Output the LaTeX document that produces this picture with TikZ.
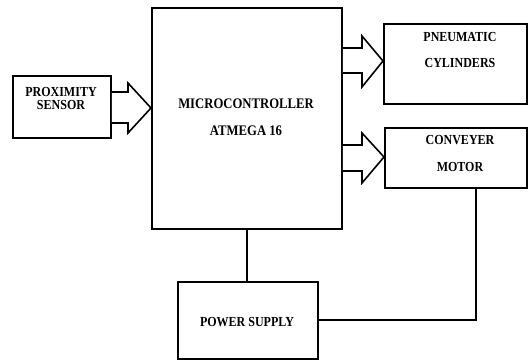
\documentclass[tikz,border=0pt]{standalone}
\usepackage{fontspec}
\setmainfont{Liberation Serif}
\newfontfamily\diagfont[FakeStretch=0.87]{Liberation Serif}
\begin{document}
\begin{tikzpicture}[x=1pt,y=-1pt,
  box/.style={draw=black, line width=1.8pt, fill=white, rectangle, anchor=north west, inner sep=0pt},
  lbl/.style={font=\diagfont\bfseries\fontsize{13.8}{15}\selectfont, inner sep=0pt, align=center},
  biglbl/.style={font=\diagfont\bfseries\fontsize{14.6}{16}\selectfont, inner sep=0pt, align=center},
  wire/.style={draw=black, line width=1.6pt},
  fatarrow/.style={draw=black, line width=1.6pt, fill=white, line join=miter}]
\useasboundingbox (0,0) rectangle (528,360);
% boxes
\node[box, minimum width=98pt, minimum height=62pt] (prox) at (12,75) {};
\node[box, minimum width=190pt, minimum height=221pt] (mcu) at (151,7) {};
\node[box, minimum width=143pt, minimum height=80pt] (pneu) at (383,23) {};
\node[box, minimum width=142pt, minimum height=60pt] (conv) at (384,127) {};
\node[box, minimum width=140pt, minimum height=77pt] (psu) at (177,281) {};
% labels
\node[lbl] (proxA) at (61,92) {PROXIMITY};
\node[lbl] (proxB) at (61,105) {SENSOR};
\node[biglbl] (mcuA) at (246,104) {MICROCONTROLLER};
\node[biglbl] (mcuB) at (246,131) {ATMEGA 16};
\node[lbl] (pneuA) at (460,37) {PNEUMATIC};
\node[lbl] (pneuB) at (460,63) {CYLINDERS};
\node[lbl] (convA) at (460,140) {CONVEYER};
\node[lbl] (convB) at (460,167) {MOTOR};
\node[lbl] (psuA) at (247,322) {POWER SUPPLY};
% hollow arrows
\path[fatarrow] (prox.east |- 0,92) -- (128,92) -- (128,83) -- (mcu.west |- 0,108) -- (128,133) -- (128,123) -- (prox.east |- 0,123);
\path[fatarrow] (mcu.east |- 0,48) -- (362,48) -- (362,36) -- (pneu.west |- 0,61) -- (362,87) -- (362,73) -- (mcu.east |- 0,73);
\path[fatarrow] (mcu.east |- 0,145) -- (362,145) -- (362,133) -- (conv.west |- 0,157) -- (362,183) -- (362,171) -- (mcu.east |- 0,171);
% wires
\draw[wire] (mcu.south) -- (mcu.south |- psu.north);
\draw[wire] (conv.south -| 476,0) -- (476,320) -- (psu.east |- 0,320);
\end{tikzpicture}
\end{document}
